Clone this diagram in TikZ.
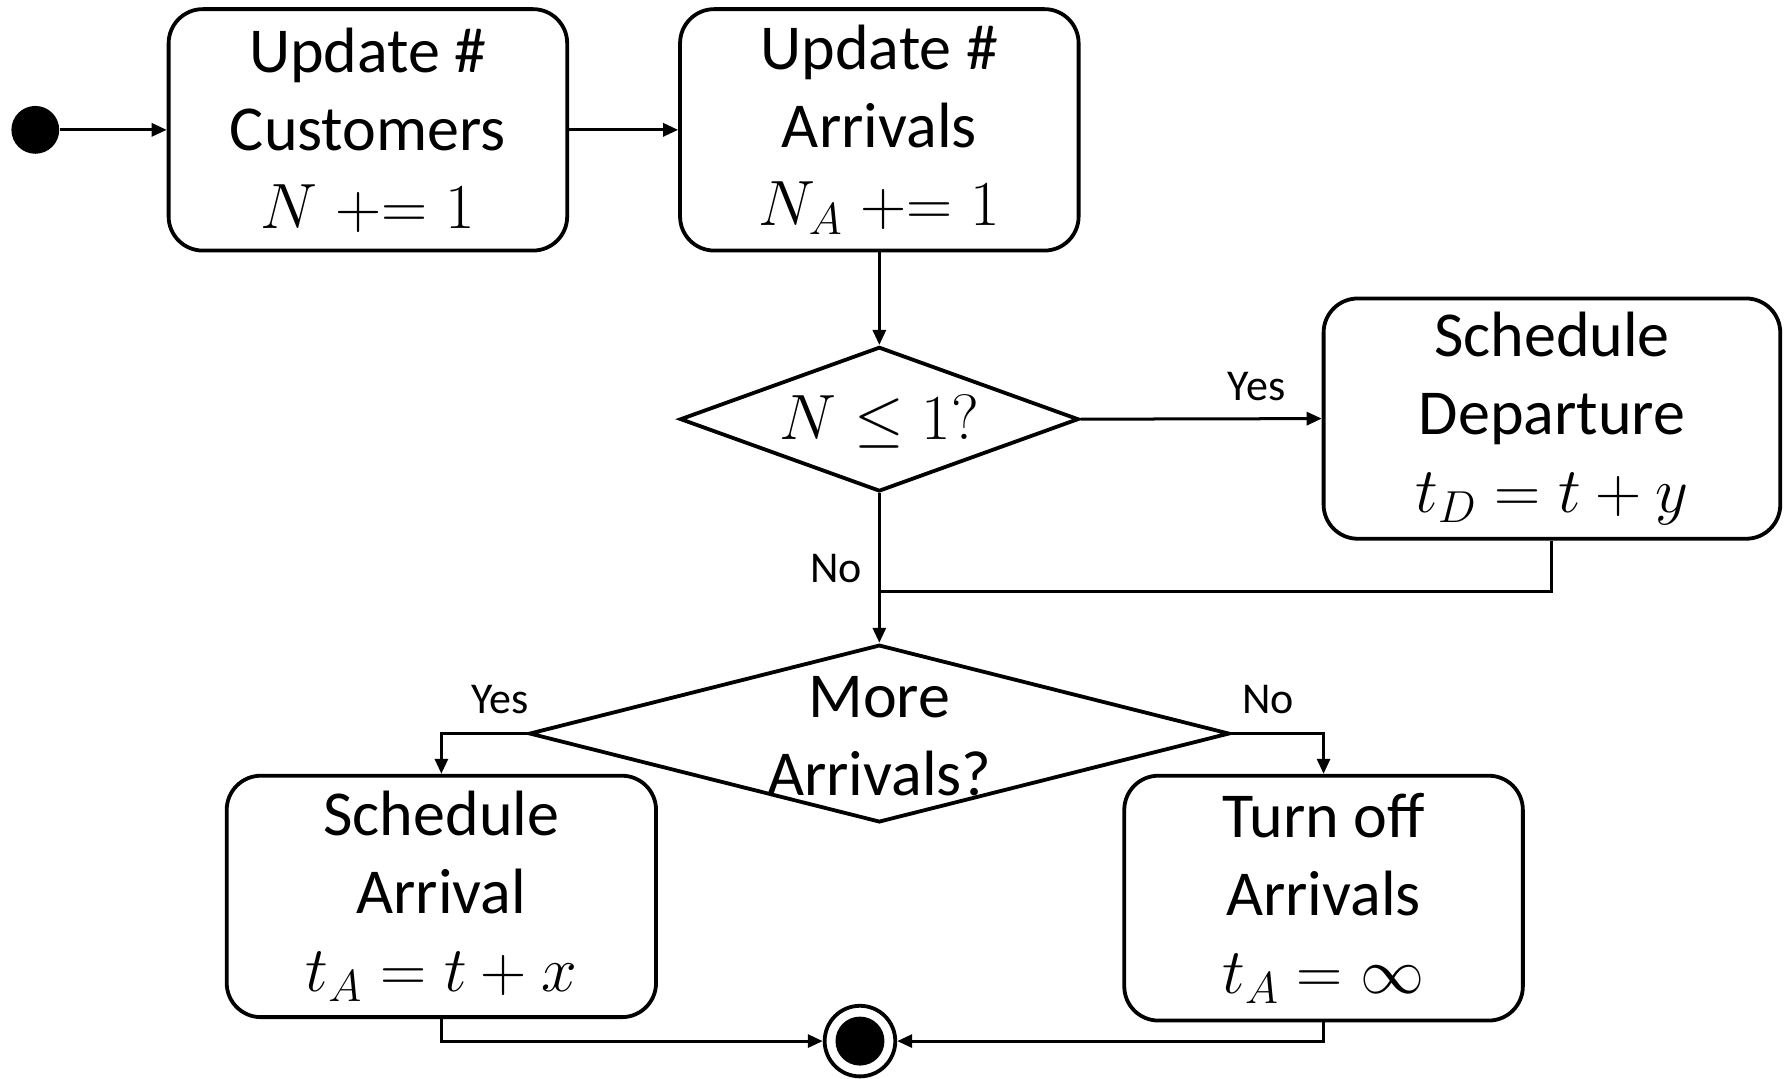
\RequirePackage{fix-cm}
\documentclass[tikz,border=0pt]{standalone}
\usepackage{fontspec}
\setmainfont{Carlito}
\usetikzlibrary{shapes.geometric,arrows.meta}

\begin{document}
\begin{tikzpicture}[x=0.02cm,y=-0.02cm,
    proc/.style={draw, line width=1.9pt, rounded corners=0.6cm, align=center,
      inner sep=0pt, font=\fontsize{32}{39}\selectfont},
    decision/.style={draw, diamond, line width=1.9pt, inner sep=0pt},
    dtext/.style={align=center, inner sep=0pt, font=\fontsize{32}{39}\selectfont},
    flow/.style={line width=1.5pt, -{Triangle[length=7.5pt,width=6.5pt]}},
    plain/.style={line width=1.5pt},
    lbl/.style={font=\fontsize{22}{26}\selectfont, inner sep=0pt}]
  \useasboundingbox (0,0) rectangle (1568,947);

  % start and end markers
  \node[circle, fill=black, minimum size=0.84cm, inner sep=0pt] (start) at (31,114) {};
  \node[circle, draw, line width=1.9pt, fill=white, minimum size=1.24cm, inner sep=0pt] (end) at (755,914) {};
  \node[circle, fill=black, minimum size=0.86cm, inner sep=0pt] (endin) at (755,914) {};

  % process boxes
  \node[proc, minimum width=7cm, minimum height=4.24cm] (cust) at (323,114)
    {Update \#\\Customers\\$N \mathrel{+}= 1$};
  \node[proc, minimum width=7cm, minimum height=4.24cm] (arr) at (772,114)
    {Update \#\\Arrivals\\$N_A \mathrel{+}= 1$};
  \node[proc, minimum width=8.02cm, minimum height=4.22cm] (dep) at (1362.5,367.5)
    {Schedule\\Departure\\$t_D = t + y$};
  \node[proc, minimum width=7.54cm, minimum height=4.24cm] (sarr) at (387.5,787)
    {Schedule\\Arrival\\$t_A = t + x$};
  \node[proc, minimum width=7cm, minimum height=4.3cm] (off) at (1162,788.5)
    {Turn off\\Arrivals\\$t_A = \infty$};

  % decisions
  \node[decision, minimum width=7cm, minimum height=2.54cm] (d1) at (772,368) {};
  \node[dtext] (d1t) at (772,370) {$N \leq 1?$};
  \node[decision, minimum width=12.3cm, minimum height=3.12cm] (d2) at (772,644) {};
  \node[dtext] (d2t) at (772,646) {More\\Arrivals?};

  % connectors
  \draw[flow] (start) -- (cust);
  \draw[flow] (cust) -- (arr);
  \draw[flow] (arr) -- (d1);
  \draw[flow] (d1.east) -- node[lbl, pos=0.73, above=8pt] {Yes} (dep.west);
  \coordinate (merge) at (772,519);
  \draw[flow] (d1.south) -- node[lbl, pos=0.5, left=8pt] {No} (d2.north);
  \draw[plain] (dep.south) |- (merge);
  \draw[flow] (d2.west) -| node[lbl, pos=0.16, above=9pt] {Yes} (sarr.north);
  \draw[flow] (d2.east) -| node[lbl, pos=0.2, above=9pt] {No} (off.north);
  \draw[flow] (sarr.south) |- (end.west);
  \draw[flow] (off.south) |- (end.east);
\end{tikzpicture}
\end{document}
